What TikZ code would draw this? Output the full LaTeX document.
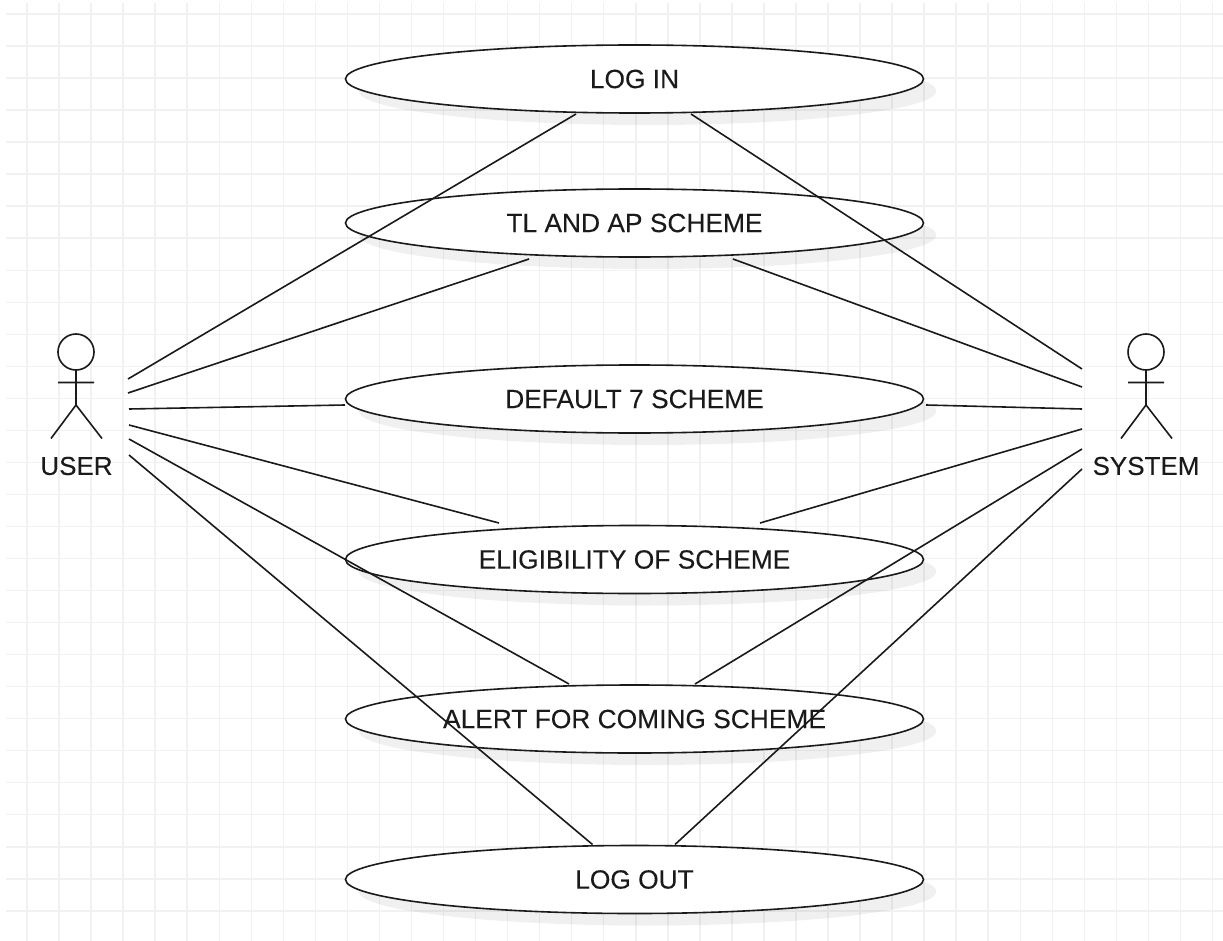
\documentclass[tikz,border=0pt]{standalone}
\usepackage{fontspec}
\setmainfont{Liberation Sans}[FakeBold=0.15]
\usetikzlibrary{shapes.geometric,shadows}
\definecolor{gridc}{HTML}{F1F1F1}
\definecolor{ink}{HTML}{1A1A1A}
\tikzset{
  x=0.75pt,y=-0.75pt,
  gridline/.style={draw=gridc,line width=1.1pt},
  usecase/.style={ellipse,draw=ink,fill=white,line width=1.2pt,minimum width=433.5pt,minimum height=51pt,inner sep=0pt,outer sep=0pt,
    text=ink,font=\fontsize{19.75}{22}\selectfont,
    drop shadow={shadow xshift=9.75pt,shadow yshift=-9pt,fill=black,opacity=.06}},
  headc/.style={circle,draw=ink,fill=white,line width=1.2pt,minimum size=27pt,inner sep=0pt,outer sep=0pt},
  actorlabel/.style={text=ink,font=\fontsize{19.5}{22}\selectfont,inner sep=0pt},
  stick/.style={draw=ink,line width=1.2pt},
  link/.style={draw=ink,line width=1.2pt}
}
\begin{document}
\begin{tikzpicture}
\useasboundingbox[fill=white] (0,0) rectangle (1223,941);
% grid
\foreach \k in {0,...,37}{\draw[gridline] ({27+32.04*\k},3) -- ({27+32.04*\k},941);}
\foreach \k in {0,...,28}{\draw[gridline] (6,{14+32.03*\k}) -- (1223,{14+32.03*\k});}
% use cases
\node[usecase] (login)   at (634.5,79)    {LOG IN};
\node[usecase] (tl)      at (634.5,223)   {TL AND AP SCHEME};
\node[usecase] (default) at (634.5,399)   {DEFAULT 7 SCHEME};
\node[usecase] (elig)    at (634.5,559.5) {ELIGIBILITY OF SCHEME};
\node[usecase] (alert)   at (634.5,719)   {ALERT FOR COMING SCHEME};
\node[usecase] (logout)  at (634.5,879.5) {LOG OUT};
% actors
\node[headc] (uhead) at (76,352) {};
\coordinate (uhip) at (76,405);
\coordinate (uarmL) at (58,382.5);
\coordinate (uarmR) at (94,382.5);
\coordinate (ulegL) at (51,438.5);
\coordinate (ulegR) at (102,438.5);
\draw[stick] (uhead.south) -- (uhip) (uarmL) -- (uarmR) (ulegL) -- (uhip) -- (ulegR);
\node[actorlabel] (user) at (76.5,466) {USER};
\node[headc] (shead) at (1146,352) {};
\coordinate (ship) at (1146,405);
\coordinate (sarmL) at (1128,382.5);
\coordinate (sarmR) at (1164,382.5);
\coordinate (slegL) at (1121,438.5);
\coordinate (slegR) at (1172,438.5);
\draw[stick] (shead.south) -- (ship) (sarmL) -- (sarmR) (slegL) -- (ship) -- (slegR);
\node[actorlabel] (system) at (1146,466) {SYSTEM};
% free ends by the actors
\coordinate (ua) at (128,379);
\coordinate (ub) at (128,393);
\coordinate (uc) at (129,409);
\coordinate (ud) at (129,425);
\coordinate (ue) at (129,439);
\coordinate (uf) at (129,455);
\coordinate (sa) at (1082,369);
\coordinate (sb) at (1082,387);
\coordinate (sc) at (1082,409);
\coordinate (sd) at (1082,429);
\coordinate (se) at (1082,449);
\coordinate (sf) at (1082,469);
% connectors: ends stand slightly off the ellipses, given relative to each centre
\draw[link] (ua) -- ([shift={(-58.5,35)}]login.center);
\draw[link] (ub) -- ([shift={(-105.5,36)}]tl.center);
\draw[link] (uc) -- ([shift={(-289.5,6)}]default.center);
\draw[link] (ud) -- ([shift={(-135.5,-36.5)}]elig.center);
\draw[link] (ue) -- ([shift={(-65.5,-35)}]alert.center);
\draw[link] (uf) -- ([shift={(-42,-35)}]logout.center);
\draw[link] (sa) -- ([shift={(56.5,35)}]login.center);
\draw[link] (sb) -- ([shift={(98.5,36)}]tl.center);
\draw[link] (sc) -- ([shift={(291.5,6)}]default.center);
\draw[link] (sd) -- ([shift={(125.5,-36.5)}]elig.center);
\draw[link] (se) -- ([shift={(60.5,-35)}]alert.center);
\draw[link] (sf) -- ([shift={(40.5,-35)}]logout.center);
\end{tikzpicture}
\end{document}
